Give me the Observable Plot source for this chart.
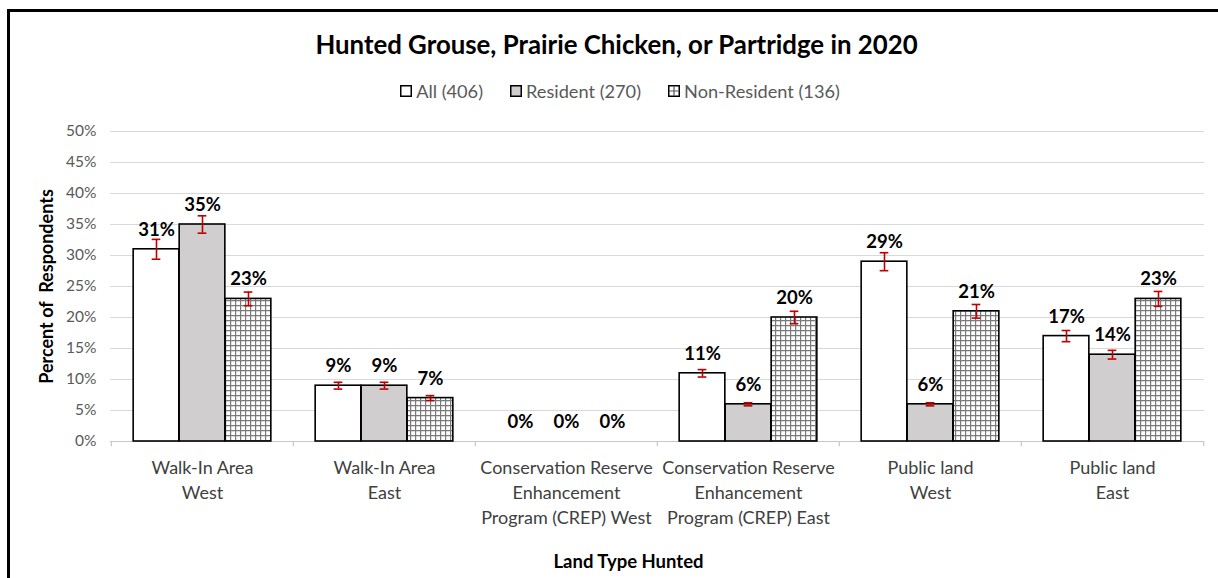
<!DOCTYPE html>
<html><head><meta charset="utf-8">
<script src="https://cdn.jsdelivr.net/npm/d3@7"></script>
<script src="https://cdn.jsdelivr.net/npm/@observablehq/plot@0.6"></script>
<style>
body{margin:0;background:#fff;font-family:Lato,"Open Sans",sans-serif;}
#wrap{position:relative;width:1218px;height:578px;overflow:hidden;background:#fff;}
#frame{position:absolute;left:7px;top:9px;width:1300px;height:700px;border-left:3px solid #000;border-top:3px solid #000;}
#title{position:absolute;top:29px;left:0;width:1233px;text-align:center;font-weight:bold;font-size:25.8px;line-height:30px;color:#000;}
#legend{position:absolute;top:81px;left:0;width:1240px;display:flex;justify-content:center;gap:27px;font-size:18.2px;line-height:20px;color:#595959;}
#legend .item{display:flex;align-items:center;gap:4px;}
#chart{position:absolute;top:110px;left:0;}
</style></head>
<body><div id="wrap"><div id="frame"></div><div id="title"></div><div id="legend"></div><div id="chart"></div></div>
<script>
const categories = ["Walk-In Area\nWest", "Walk-In Area\nEast", "Conservation Reserve\nEnhancement\nProgram (CREP) West", "Conservation Reserve\nEnhancement\nProgram (CREP) East", "Public land\nWest", "Public land\nEast"];
const series = ["All (406)", "Resident (270)", "Non-Resident (136)"];
const allValues = [31, 9, 0, 11, 29, 17];
const residentValues = [35, 9, 0, 6, 6, 14];
const nonResidentValues = [23, 7, 0, 20, 21, 23];
const allErrors = [1.6, 0.55, 0, 0.6, 1.45, 0.9];
const residentErrors = [1.4, 0.55, 0, 0.25, 0.25, 0.7];
const nonResidentErrors = [1.1, 0.4, 0, 1.0, 1.1, 1.2];
const yTicks = [0, 5, 10, 15, 20, 25, 30, 35, 40, 45, 50];
const titleText = "Hunted Grouse, Prairie Chicken, or Partridge in 2020";
const xLabel = "Land Type Hunted";
const yLabel = "Percent of  Respondents";

const valuesBySeries = [allValues, residentValues, nonResidentValues];
const errorsBySeries = [allErrors, residentErrors, nonResidentErrors];
const rows = [];
series.forEach((s, si) => categories.forEach((c, ci) => rows.push({cat: c, series: s, si, value: valuesBySeries[si][ci], err: errorsBySeries[si][ci]})));

const fills = ["#ffffff", "#d0cece", "url(#gridpat)"];

document.getElementById("title").textContent = titleText;
const legend = document.getElementById("legend");
series.forEach((s, si) => {
  const item = document.createElement("div");
  item.className = "item";
  let sw;
  if (si === 2) {
    sw = `<svg width="12" height="12"><rect x="0.75" y="0.75" width="10.5" height="10.5" fill="#fff" stroke="#000" stroke-width="1.5"/><path d="M1,6H11M6,1V11" stroke="#555" stroke-width="1.2"/></svg>`;
  } else {
    sw = `<svg width="12" height="12"><rect x="0.75" y="0.75" width="10.5" height="10.5" fill="${fills[si]}" stroke="#000" stroke-width="1.5"/></svg>`;
  }
  item.innerHTML = sw + `<span>${s}</span>`;
  legend.appendChild(item);
});

const W = 1218, H = 468, ML = 110, MR = 14, MT = 21, MB = 137;
const bw = (W - ML - MR) / categories.length;
const barW = 46;

const marks = [
  () => {
    const defs = d3.create("svg:defs");
    const p = defs.append("pattern").attr("id", "gridpat").attr("patternUnits", "userSpaceOnUse").attr("width", 5).attr("height", 5);
    p.append("rect").attr("width", 5).attr("height", 5).attr("fill", "#fff");
    p.append("path").attr("d", "M0,0.6H5M0.6,0V5").attr("stroke", "#7a7a7a").attr("stroke-width", 1.2);
    return defs.node();
  },
  Plot.ruleY(yTicks.filter(d => d > 0), {y: d => d, stroke: "#d9d9d9", strokeWidth: 1}),
  Plot.ruleY([0], {y: d => d, stroke: "#c8c8c8", strokeWidth: 1.2}),
  Plot.ruleX(categories, {x: d => d, dx: -bw / 2, y1: 0, y2: -0.85, stroke: "#c8c8c8", strokeWidth: 1.2}),
  Plot.ruleX([categories[categories.length - 1]], {x: d => d, dx: bw / 2, y1: 0, y2: -0.85, stroke: "#c8c8c8", strokeWidth: 1.2})
];

series.forEach((s, si) => {
  const data = rows.filter(r => r.si === si);
  marks.push(Plot.barY(data.filter(d => d.value > 0), {
    x: "cat", y: "value", fill: fills[si], stroke: "#000", strokeWidth: 1.6,
    insetLeft: bw / 2 - barW * 1.5 + si * barW, insetRight: bw / 2 - barW * 1.5 + (2 - si) * barW
  }));
});
series.forEach((s, si) => {
  const data = rows.filter(r => r.si === si);
  const off = (si - 1) * barW;
  const e = data.filter(d => d.err > 0);
  marks.push(Plot.ruleX(e, {x: "cat", dx: off, y1: d => d.value - d.err, y2: d => d.value + d.err, stroke: "#c00000", strokeWidth: 1.6}));
  marks.push(Plot.tickY(e, {x: "cat", dx: off, y: d => d.value - d.err, stroke: "#c00000", strokeWidth: 1.6, insetLeft: bw / 2 - 4.5, insetRight: bw / 2 - 4.5}));
  marks.push(Plot.tickY(e, {x: "cat", dx: off, y: d => d.value + d.err, stroke: "#c00000", strokeWidth: 1.6, insetLeft: bw / 2 - 4.5, insetRight: bw / 2 - 4.5}));
  marks.push(Plot.text(data, {x: "cat", dx: off, y: "value", dy: -13.5, lineAnchor: "bottom", text: d => d.value + "%", fontWeight: "bold", fontSize: 18.5, fill: "#000"}));
});

marks.push(Plot.text(categories, {x: d => d, y: 0, dy: 14.5, lineAnchor: "top", lineHeight: 25 / 18, text: d => d, fontSize: 18, fill: "#404040"}));
marks.push(Plot.text([xLabel], {frameAnchor: "bottom", dx: -29, dy: 126, text: d => d, fontWeight: "bold", fontSize: 18.5, fill: "#000"}));
marks.push(Plot.text([yLabel], {frameAnchor: "left", textAnchor: "middle", dx: -63, rotate: -90, text: d => d, fontWeight: "bold", fontSize: 18, fill: "#000"}));

const chart = Plot.plot({
  width: W, height: H,
  marginLeft: ML, marginRight: MR, marginTop: MT, marginBottom: MB,
  style: {fontFamily: "Lato, 'Open Sans', sans-serif", fontSize: "15.5px", color: "#595959", background: "transparent", overflow: "visible"},
  x: {domain: categories, paddingInner: 0, paddingOuter: 0, axis: null},
  y: {domain: [0, 50], ticks: yTicks, tickFormat: d => d + "%", tickSize: 0, tickPadding: 14, label: null},
  marks
});
document.getElementById("chart").appendChild(chart);
</script></body></html>
